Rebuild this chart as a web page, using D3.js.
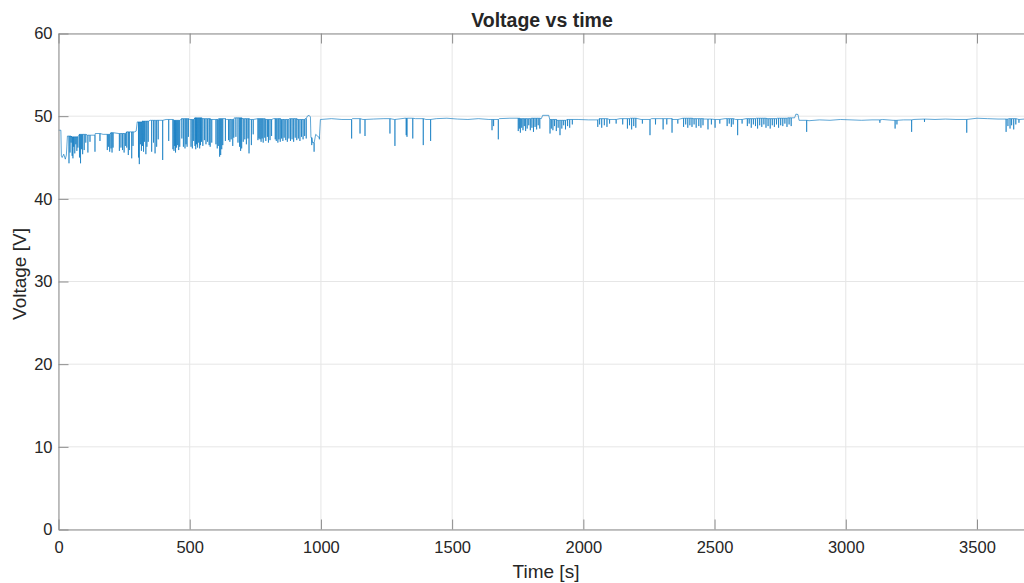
<!DOCTYPE html>
<html>
<head>
<meta charset="utf-8">
<script src="https://cdn.jsdelivr.net/npm/d3@7"></script>
<style>
  body { margin: 0; background: #fff; }
  svg { display: block; }
  text { font-family: "Liberation Sans", Arial, Helvetica, sans-serif; fill: #262626; }
</style>
</head>
<body>
<svg id="chart" width="1024" height="583"></svg>
<script>
// Steady supply level over time: [time s, voltage V]
const levelKnots = [
  [0, 48.3], [9, 48.3], [11, 45.2], [14, 45.0], [20, 45.4], [26, 44.8], [30, 45.3],
  [34, 47.6], [50, 47.5], [80, 47.8], [110, 47.7], [140, 47.9], [170, 47.8], [200, 48.0],
  [230, 47.9], [260, 48.1], [290, 48.1], [296, 48.2], [300, 49.3], [320, 49.4], [350, 49.5],
  [380, 49.5], [410, 49.6], [440, 49.5], [470, 49.7], [500, 49.6], [520, 49.8], [550, 49.7],
  [580, 49.6], [610, 49.7], [640, 49.6], [670, 49.8], [700, 49.7], [730, 49.6], [760, 49.7],
  [790, 49.6], [820, 49.7], [850, 49.6], [880, 49.7], [910, 49.6], [940, 49.7], [948, 50.0],
  [955, 50.1], [960, 49.9], [962, 47.4], [968, 46.8], [980, 47.8], [990, 47.5], [998, 49.6],
  [1000, 49.6], [1040, 49.7], [1080, 49.6], [1120, 49.7], [1160, 49.6], [1200, 49.65],
  [1240, 49.7], [1280, 49.6], [1320, 49.75], [1360, 49.7], [1400, 49.6], [1440, 49.7],
  [1480, 49.75], [1520, 49.65], [1560, 49.6], [1600, 49.7], [1640, 49.6], [1680, 49.7],
  [1720, 49.75], [1760, 49.7], [1800, 49.75], [1840, 49.7], [1845, 50.1], [1868, 50.1],
  [1872, 49.6], [1900, 49.5], [1940, 49.6], [1980, 49.6], [2020, 49.55], [2060, 49.7],
  [2100, 49.6], [2140, 49.7], [2180, 49.75], [2220, 49.6], [2260, 49.7], [2300, 49.7],
  [2340, 49.6], [2380, 49.75], [2420, 49.7], [2460, 49.65], [2500, 49.6], [2540, 49.7],
  [2580, 49.6], [2620, 49.7], [2660, 49.75], [2700, 49.7], [2740, 49.75], [2780, 49.8],
  [2805, 49.8], [2810, 50.25], [2818, 50.2], [2822, 49.5], [2860, 49.45], [2900, 49.55],
  [2940, 49.5], [2980, 49.6], [3020, 49.55], [3060, 49.5], [3100, 49.55], [3140, 49.6],
  [3180, 49.5], [3220, 49.55], [3260, 49.6], [3300, 49.65], [3340, 49.6], [3380, 49.65],
  [3420, 49.6], [3460, 49.6], [3500, 49.75], [3540, 49.7], [3580, 49.65], [3620, 49.7],
  [3660, 49.6], [3700, 49.7]
];

// Short voltage sags: [time s, lowest voltage V]
const dips = [
  [40, 44.3], [44, 45.6], [48, 46.8], [52, 45.2], [55, 44.9], [58, 46.3], [62, 45.5],
  [66, 46.6], [70, 45.8], [74, 46.2], [80, 45.0], [84, 44.3], [88, 46.0], [92, 45.4],
  [98, 45.9], [104, 46.8], [112, 45.6], [120, 46.9], [139, 45.7], [158, 47.0], [186, 45.9],
  [190, 46.3], [195, 45.7], [200, 46.1], [204, 45.6], [208, 46.2], [232, 45.8], [238, 46.2],
  [244, 45.9], [250, 45.6], [255, 46.4], [260, 46.2], [266, 45.3], [270, 45.9], [279, 44.9],
  [284, 46.4],
  [305, 45.0], [308, 44.2], [312, 46.6], [316, 45.8], [320, 46.4], [324, 45.7], [328, 46.9],
  [333, 45.4], [337, 46.3], [342, 46.9], [355, 45.7], [362, 46.8], [368, 45.5], [374, 46.3],
  [380, 47.2], [397, 44.7], [420, 47.0], [436, 46.0], [440, 45.8], [443, 46.4], [446, 45.6],
  [450, 46.2], [454, 46.5], [458, 45.9], [462, 46.3], [470, 47.3], [476, 46.3], [482, 46.1],
  [486, 46.6], [490, 46.3], [495, 47.5], [505, 46.3], [510, 46.1], [515, 47.0], [520, 46.4],
  [523, 46.0], [526, 46.6], [530, 46.2], [534, 46.8], [538, 46.1], [541, 46.5], [545, 46.9],
  [550, 46.4], [556, 47.1], [562, 46.6], [568, 46.9], [574, 46.5], [578, 46.3], [584, 46.8],
  [600, 46.6], [605, 46.1], [609, 46.4], [614, 45.1], [618, 45.3], [622, 46.0], [626, 46.5],
  [636, 47.0], [648, 47.1], [653, 46.9], [658, 47.2], [664, 46.4], [668, 47.4], [676, 47.5],
  [684, 46.8], [690, 46.3], [694, 45.8], [698, 46.1], [704, 46.9], [710, 47.2], [716, 46.6],
  [722, 47.3], [726, 45.5], [735, 46.5], [742, 47.8], [760, 47.1], [764, 47.3], [768, 47.2],
  [772, 46.9], [776, 47.3], [780, 46.8], [786, 47.4], [790, 47.0], [796, 47.5], [800, 46.8],
  [806, 47.1], [812, 47.6], [826, 47.2], [830, 47.0], [836, 46.8], [840, 47.2], [845, 46.9],
  [850, 47.3], [855, 47.0], [860, 47.4], [866, 47.1], [872, 46.9], [878, 47.3], [884, 47.0],
  [890, 47.2], [896, 46.9], [902, 47.4], [908, 47.1], [914, 47.3], [920, 47.0], [926, 47.5],
  [932, 47.2], [938, 47.6], [944, 47.3],
  [965, 46.5], [974, 45.7], [994, 47.2],
  [1117, 47.3], [1149, 47.9], [1168, 47.6], [1263, 47.9], [1282, 46.4], [1325, 47.7],
  [1328, 47.5], [1350, 47.3], [1390, 46.5], [1418, 47.0],
  [1652, 48.3], [1658, 48.8], [1676, 47.2], [1752, 48.2], [1756, 48.5], [1760, 48.0],
  [1765, 48.6], [1770, 48.3], [1775, 48.8], [1780, 48.2], [1786, 48.5], [1792, 48.9],
  [1798, 48.3], [1804, 48.6], [1810, 48.1], [1816, 48.7], [1822, 48.4], [1828, 48.9],
  [1834, 48.5], [1873, 47.9], [1878, 48.5], [1884, 48.3], [1890, 48.8], [1897, 48.2],
  [1904, 48.6], [1911, 47.7], [1918, 48.5], [1925, 48.9], [1932, 48.4], [1940, 48.8],
  [1948, 48.6], [1958, 49.0],
  [2055, 48.7], [2062, 49.0], [2070, 48.6], [2080, 48.9], [2090, 48.7], [2100, 49.1],
  [2125, 49.1], [2150, 49.0], [2168, 48.5], [2176, 48.9], [2184, 48.4], [2192, 48.8],
  [2200, 48.6], [2225, 49.1], [2254, 47.7], [2275, 49.0], [2304, 48.4], [2318, 49.0],
  [2338, 48.0], [2360, 49.1], [2382, 48.7], [2390, 49.0], [2398, 48.6], [2406, 48.9],
  [2414, 48.7], [2422, 49.0], [2430, 48.6], [2440, 48.8], [2448, 48.6], [2456, 48.9],
  [2475, 48.4], [2488, 49.0], [2502, 48.6], [2520, 49.1], [2548, 48.8], [2556, 49.1],
  [2564, 48.7], [2571, 49.0], [2588, 47.7], [2605, 49.1], [2625, 48.8], [2632, 49.1],
  [2640, 48.6], [2648, 49.0], [2656, 48.8], [2664, 48.5], [2672, 48.9], [2680, 48.7],
  [2688, 49.0], [2696, 48.6], [2704, 48.8], [2712, 48.5], [2720, 48.9], [2728, 48.7],
  [2736, 49.0], [2744, 48.6], [2752, 48.9], [2760, 48.8], [2768, 49.1], [2776, 48.7],
  [2784, 49.0], [2792, 48.8], [2851, 48.1],
  [3130, 49.2], [3188, 48.5], [3195, 49.0], [3251, 48.1], [3300, 49.3], [3461, 48.0],
  [3611, 48.1], [3618, 48.8], [3626, 48.5], [3632, 48.9], [3640, 48.4], [3648, 49.0],
  [3660, 49.2]
];

const xTicks = [0, 500, 1000, 1500, 2000, 2500, 3000, 3500];
const yTicks = [0, 10, 20, 30, 40, 50, 60];
const titleText = "Voltage vs time";
const xLabelText = "Time [s]";
const yLabelText = "Voltage [V]";

const svg = d3.select("#chart");
const plot = { left: 58.5, top: 33.5, right: 1025, bottom: 529.5 };

const x = d3.scaleLinear().domain([0, 3683]).range([plot.left, plot.right]);
const y = d3.scaleLinear().domain([0, 60]).range([plot.bottom, plot.top]);

// Merge the level trace with the sags into one time-ordered sequence
const events = levelKnots.map(d => ({ t: d[0], v: d[1], dip: false }))
  .concat(dips.map(d => ({ t: d[0], v: d[1], dip: true })))
  .sort((a, b) => a.t - b.t || (a.dip - b.dip));
const series = [];
let level = levelKnots[0][1];
for (const e of events) {
  if (e.dip) {
    series.push([e.t - 0.4, level], [e.t, e.v], [e.t + 0.4, level]);
  } else {
    level = e.v;
    series.push([e.t, e.v]);
  }
}

const axisColor = "#8c8c8c";
const gridColor = "#e6e6e6";

// Grid
svg.append("g").selectAll("line").data(xTicks).join("line")
  .attr("x1", d => x(d)).attr("x2", d => x(d))
  .attr("y1", plot.top).attr("y2", plot.bottom)
  .attr("stroke", gridColor).attr("stroke-width", 1);
svg.append("g").selectAll("line").data(yTicks).join("line")
  .attr("x1", plot.left).attr("x2", plot.right)
  .attr("y1", d => y(d)).attr("y2", d => y(d))
  .attr("stroke", gridColor).attr("stroke-width", 1);

// Data line
svg.append("defs").append("clipPath").attr("id", "clip")
  .append("rect").attr("x", plot.left).attr("y", plot.top)
  .attr("width", plot.right - plot.left).attr("height", plot.bottom - plot.top);

const line = d3.line().x(d => x(d[0])).y(d => y(d[1]));
svg.append("path").datum(series)
  .attr("clip-path", "url(#clip)")
  .attr("fill", "none")
  .attr("stroke", "#0072BD")
  .attr("stroke-width", 0.7)
  .attr("stroke-opacity", 0.9)
  .attr("stroke-linejoin", "round")
  .attr("d", line);

// Axes
function styleAxis(g) {
  g.select(".domain").attr("stroke", axisColor);
  g.selectAll(".tick line").attr("stroke", axisColor);
  g.selectAll(".tick text").attr("fill", "#262626").style("font-size", "16.5px")
    .style("font-family", '"Liberation Sans", Arial, Helvetica, sans-serif');
}

svg.append("g").attr("transform", `translate(0,${plot.bottom})`)
  .call(d3.axisBottom(x).tickValues(xTicks).tickSizeInner(-10).tickSizeOuter(0).tickPadding(12).tickFormat(d3.format("d")))
  .call(styleAxis);
svg.append("g").attr("transform", `translate(0,${plot.top})`)
  .call(d3.axisTop(x).tickValues(xTicks).tickSizeInner(-10).tickSizeOuter(0).tickFormat(""))
  .call(styleAxis);
svg.append("g").attr("transform", `translate(${plot.left},0)`)
  .call(d3.axisLeft(y).tickValues(yTicks).tickSizeInner(-10).tickSizeOuter(0).tickPadding(6).tickFormat(d3.format("d")))
  .call(styleAxis);

// Labels
svg.append("text").attr("x", 542).attr("y", 27).attr("text-anchor", "middle")
  .style("font-size", "19.5px").style("font-weight", "bold").attr("fill", "#000").text(titleText);
svg.append("text").attr("x", 546).attr("y", 578).attr("text-anchor", "middle")
  .style("font-size", "19px").text(xLabelText);
svg.append("text").attr("transform", "translate(26,274) rotate(-90)").attr("text-anchor", "middle")
  .style("font-size", "19px").text(yLabelText);
</script>
</body>
</html>
